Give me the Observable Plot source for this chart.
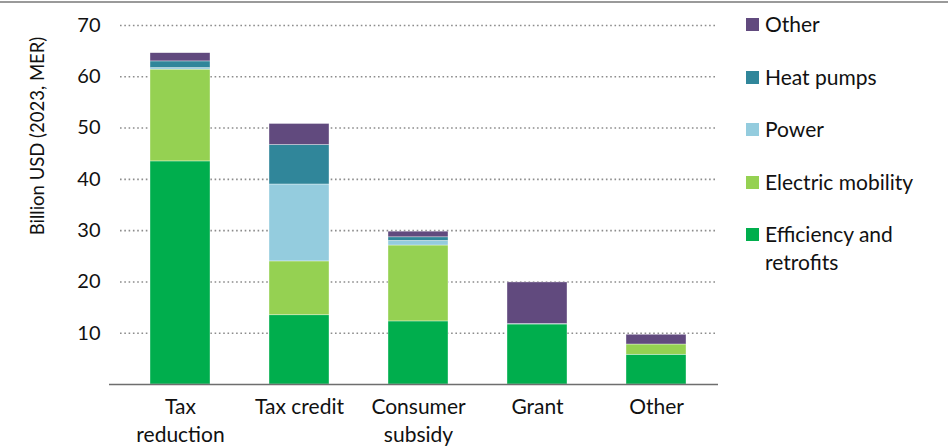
<!DOCTYPE html>
<html>
<head>
<meta charset="utf-8">
<script src="https://cdn.jsdelivr.net/npm/d3@7"></script>
<script src="https://cdn.jsdelivr.net/npm/@observablehq/plot@0.6"></script>
<style>
  body { margin: 0; background: #fff; font-family: Lato, "Noto Sans", sans-serif; }
  #wrap { position: relative; width: 948px; height: 448px; overflow: hidden; }
  #topline { position: absolute; left: 0; top: 1px; width: 948px; height: 2px; background: #9a9a9a; }
  #ylabel { position: absolute; left: 37px; top: 136px; transform: translate(-50%, -50%) rotate(-90deg); white-space: nowrap; font-size: 18.5px; color: #111; }
  #legend { position: absolute; left: 746px; top: 10px; font-size: 21px; color: #111; }
  .item { display: flex; align-items: flex-start; height: 52.6px; }
  .sw { width: 13px; height: 13px; margin-top: 8px; margin-right: 6px; flex: none; }
  .lab { line-height: 28px; margin-top: 0px; }
</style>
</head>
<body>
<div id="wrap">
  <div id="chart"></div>
  <div id="topline"></div>
  <div id="ylabel"></div>
  <div id="legend"></div>
</div>
<script>
const categories = ["Tax reduction", "Tax credit", "Consumer subsidy", "Grant", "Other"];
const tickLabels = ["Tax\nreduction", "Tax credit", "Consumer\nsubsidy", "Grant", "Other"];
const seriesNames = ["Efficiency and retrofits", "Electric mobility", "Power", "Heat pumps", "Other"];
const seriesColors = ["#00ae4d", "#95d152", "#94ccde", "#30869a", "#614a7e"];
const efficiency = [43.5, 13.5, 12.3, 11.7, 5.8];
const electricMobility = [17.9, 10.5, 14.8, 0, 2.0];
const power = [0.3, 15.0, 0.9, 0, 0];
const heatPumps = [1.3, 7.7, 0.7, 0.1, 0];
const otherSeries = [1.6, 4.1, 1.1, 8.1, 1.9];
const yTicks = [10, 20, 30, 40, 50, 60, 70];
const yLabel = "Billion USD (2023, MER)";

const seriesValues = [efficiency, electricMobility, power, heatPumps, otherSeries];
const data = [];
categories.forEach((c, i) => {
  seriesNames.forEach((s, j) => {
    data.push({category: c, series: s, value: seriesValues[j][i]});
  });
});

const plot = Plot.plot({
  width: 948,
  height: 448,
  marginLeft: 120,
  marginRight: 233,
  marginTop: 25,
  marginBottom: 64,
  style: {fontFamily: "Lato, 'Noto Sans', sans-serif", fontSize: "20px", color: "#111", background: "white"},
  x: {domain: categories, paddingInner: 0.5, paddingOuter: 0.25, label: null},
  y: {domain: [0, 70], label: null},
  color: {domain: seriesNames, range: seriesColors},
  marks: [
    Plot.gridY(yTicks, {stroke: "#8c8c8c", strokeOpacity: 1, strokeWidth: 1.6, strokeDasharray: "1.6 2.7"}),
    Plot.barY(data, {x: "category", y: "value", fill: "series", stroke: "white", strokeWidth: 0.6, strokeOpacity: 0.6, order: seriesNames}),
    Plot.ruleY([0], {stroke: "#6e6e6e", strokeWidth: 1.5, insetLeft: -11, insetRight: -3}),
    Plot.axisY(yTicks, {tickSize: 0, tickPadding: 20, fontSize: 20, label: null}),
    Plot.axisX({tickSize: 0, tickPadding: 10, fontSize: 21, lineHeight: 1.33, label: null,
      tickFormat: (d) => tickLabels[categories.indexOf(d)]})
  ]
});
document.getElementById("chart").appendChild(plot);
document.getElementById("ylabel").textContent = yLabel;

const legend = document.getElementById("legend");
const order = [4, 3, 2, 1, 0];
order.forEach((j) => {
  const item = document.createElement("div");
  item.className = "item";
  const sw = document.createElement("div");
  sw.className = "sw";
  sw.style.background = seriesColors[j];
  const lab = document.createElement("div");
  lab.className = "lab";
  lab.innerHTML = seriesNames[j] === "Efficiency and retrofits" ? "Efficiency and<br>retrofits" : seriesNames[j];
  item.appendChild(sw);
  item.appendChild(lab);
  legend.appendChild(item);
});
</script>
</body>
</html>
